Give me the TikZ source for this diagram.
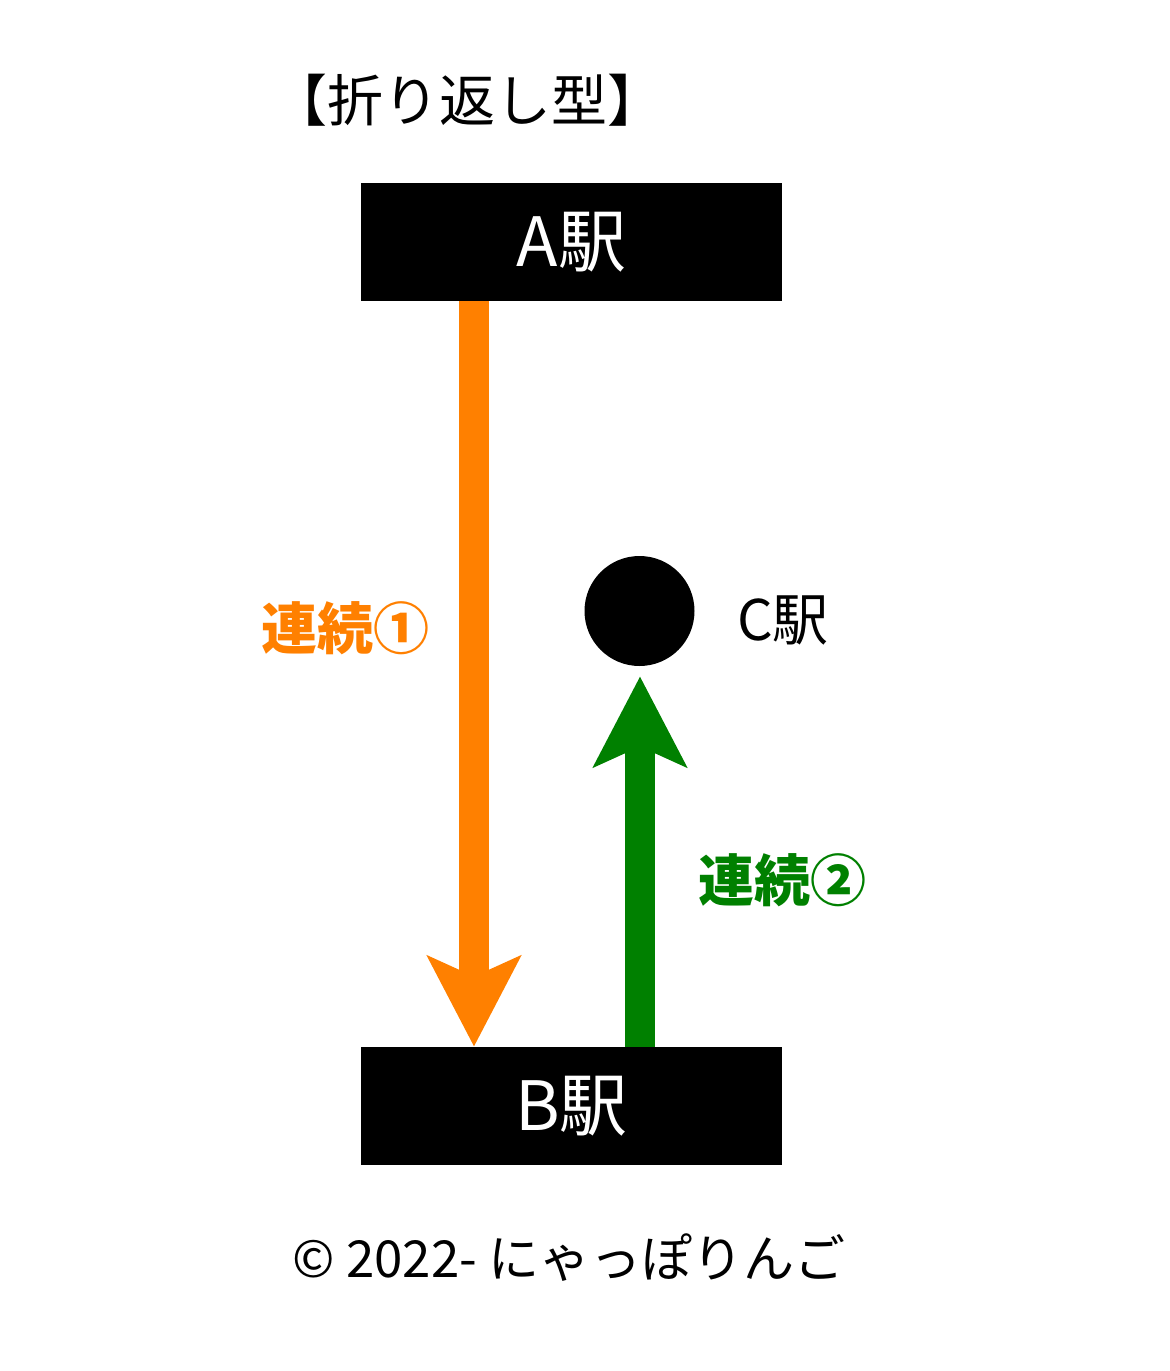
\documentclass[tikz,border=0pt]{standalone}
\usepackage{fontspec}
\setmainfont{Noto Sans CJK JP}
\usetikzlibrary{arrows.meta}
\definecolor{myorange}{RGB}{255,128,0}
\definecolor{mygreen}{RGB}{0,128,0}
\begin{document}
\begin{tikzpicture}[x=0.5pt,y=-0.5pt,
  station/.style={fill=black,minimum width=210.5pt,minimum height=59pt,inner sep=0pt,
    text=white,font=\fontsize{34pt}{40pt}\selectfont},
  flow/.style={line width=15pt,-{Stealth[length=45pt,width=46pt,inset=10pt]}},
  lbl/.style={font=\fontsize{28pt}{32pt}\selectfont\bfseries},
]
\useasboundingbox (0,0) rectangle (1170,1371);
\fill[white] (0,0) rectangle (1170,1371);
\node[font=\fontsize{28pt}{32pt}\selectfont] (title) at (467,100) {【折り返し型】};
\node[station] (A) at (571.5,242) {A駅};
\node[station] (B) at (571.5,1106) {B駅};
\node[circle,fill=black,minimum size=55pt,inner sep=0pt] (C) at (639.5,611) {};
\node[font=\fontsize{28pt}{32pt}\selectfont] (Clbl) at (783,620) {C駅};
\coordinate (ox) at (474,0);
\coordinate (gx) at (640,0);
\draw[flow,myorange] (A.south -| ox) -- (B.north -| ox);
\draw[flow,mygreen,shorten >=5pt] (B.north -| gx) -- (C.south -| gx);
\node[lbl,text=myorange] (l1) at (345,628) {連続①};
\node[lbl,text=mygreen] (l2) at (782,880) {連続②};
\node[font=\fontsize{25.5pt}{30pt}\selectfont] (copy) at (569,1258) {© 2022- にゃっぽりんご};
\end{tikzpicture}
\end{document}
